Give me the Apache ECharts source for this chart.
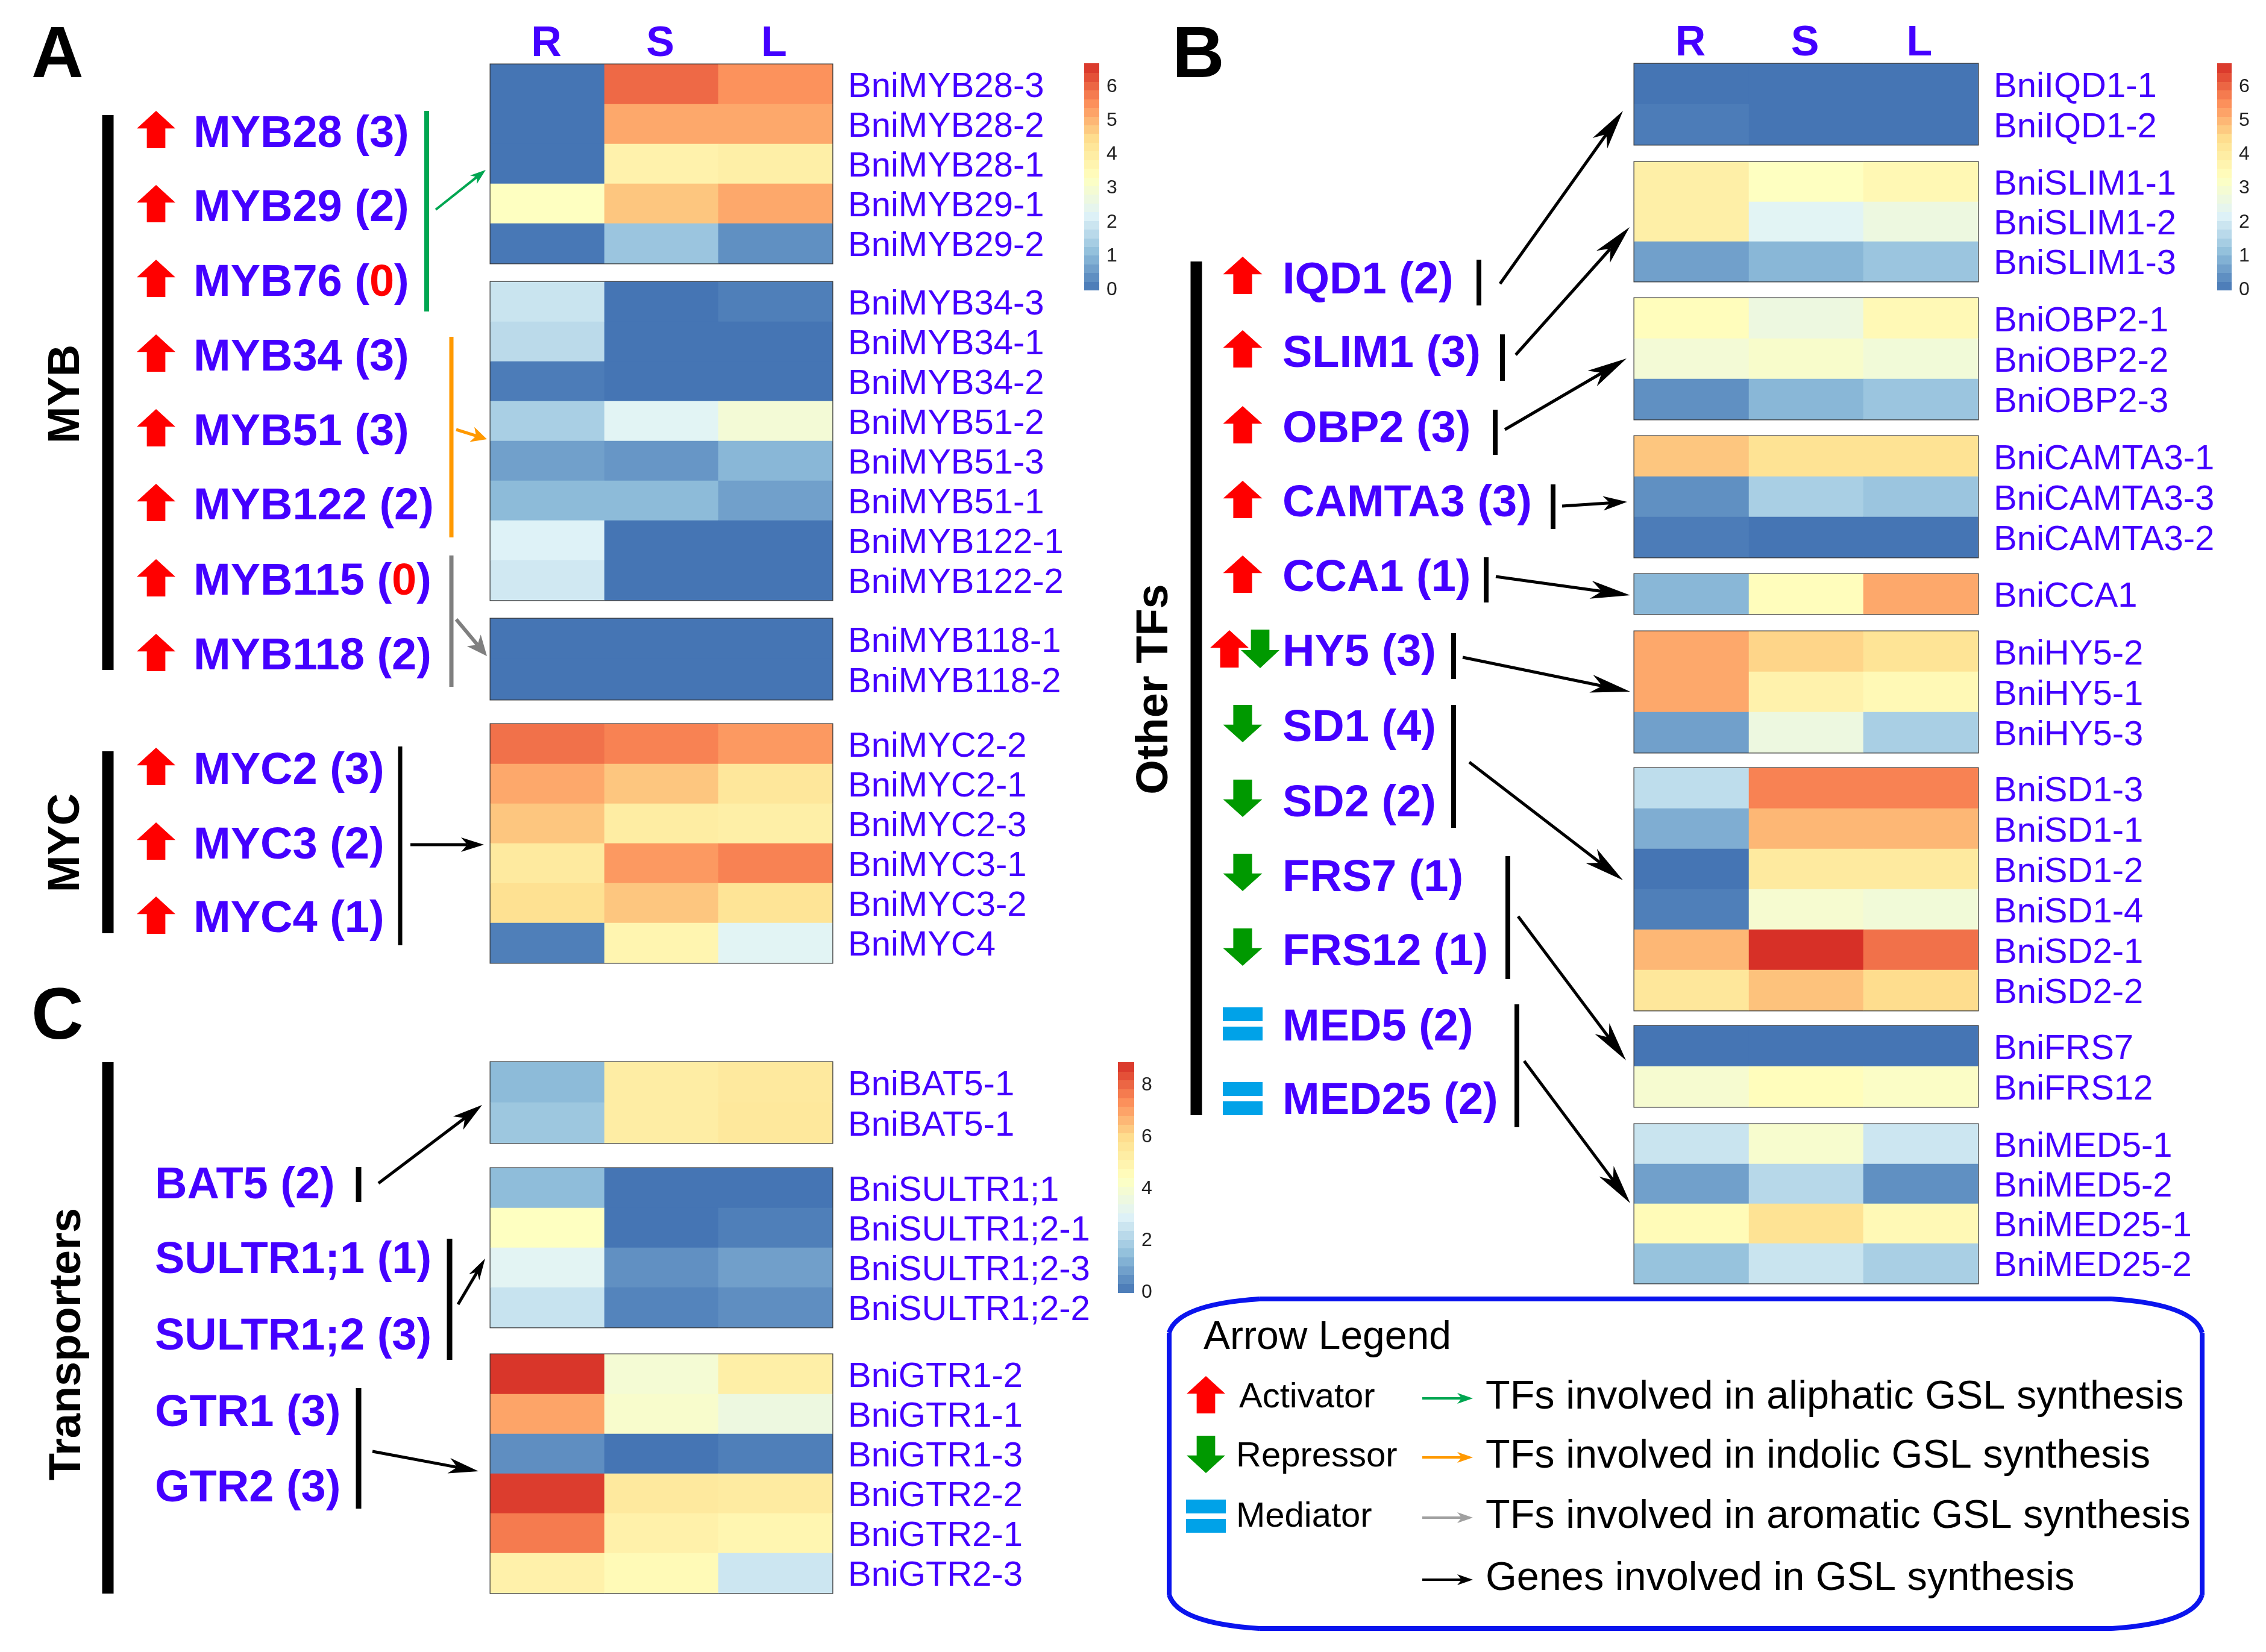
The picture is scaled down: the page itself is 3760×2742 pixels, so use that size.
<!DOCTYPE html>
<html><head><meta charset="utf-8">
<style>html,body{margin:0;padding:0;background:#fff}#c{width:3760px;height:2742px}</style>
<script src="https://cdn.jsdelivr.net/npm/echarts@6/dist/echarts.min.js"></script>
</head><body><div id="c"></div>
<script>
// ---------- DATA ----------
const tissues = ['R','S','L'];
const palette = ['#4575B4','#91BFDB','#E0F3F8','#FFFFBF','#FEE090','#FC8D59','#D73027'];
const maxAB = 6.68, maxC = 8.9;

const myb1Genes = ['BniMYB28-3','BniMYB28-2','BniMYB28-1','BniMYB29-1','BniMYB29-2'];
const myb1Vals = [[0,6.0,5.5],[0,5.2,5.2],[0,3.8,3.9],[3.3,4.8,5.2],[0.05,1.25,0.4]];
const myb2Genes = ['BniMYB34-3','BniMYB34-1','BniMYB34-2','BniMYB51-2','BniMYB51-3','BniMYB51-1','BniMYB122-1','BniMYB122-2'];
const myb2Vals = [[1.9,0,0.15],[1.7,0,0],[0.1,0,0],[1.45,2.3,2.9],[0.65,0.5,1.0],[1.05,1.05,0.65],[2.2,0,0],[2.0,0,0]];
const myb3Genes = ['BniMYB118-1','BniMYB118-2'];
const myb3Vals = [[0,0,0],[0,0,0]];
const mycGenes = ['BniMYC2-2','BniMYC2-1','BniMYC2-3','BniMYC3-1','BniMYC3-2','BniMYC4'];
const mycVals = [[5.9,5.7,5.4],[5.2,4.8,4.2],[4.8,4.0,3.9],[4.1,5.4,5.7],[4.4,4.8,4.3],[0.15,3.7,2.3]];

const iqdGenes = ['BniIQD1-1','BniIQD1-2'];
const iqdVals = [[0,0,0],[0.1,0,0]];
const slimGenes = ['BniSLIM1-1','BniSLIM1-2','BniSLIM1-3'];
const slimVals = [[3.9,3.3,3.6],[3.9,2.3,2.7],[0.65,1.0,1.25]];
const obpGenes = ['BniOBP2-1','BniOBP2-2','BniOBP2-3'];
const obpVals = [[3.4,2.7,3.55],[2.9,3.1,2.85],[0.4,1.0,1.25]];
const camtaGenes = ['BniCAMTA3-1','BniCAMTA3-3','BniCAMTA3-2'];
const camtaVals = [[4.8,4.35,4.35],[0.4,1.45,1.25],[0.1,0,0]];
const ccaGenes = ['BniCCA1'];
const ccaVals = [[1.0,3.4,5.2]];
const hyGenes = ['BniHY5-2','BniHY5-1','BniHY5-3'];
const hyVals = [[5.2,4.6,4.3],[5.2,3.8,3.55],[0.65,2.7,1.45]];
const sdGenes = ['BniSD1-3','BniSD1-1','BniSD1-2','BniSD1-4','BniSD2-1','BniSD2-2'];
const sdVals = [[1.75,5.7,5.7],[0.85,5.0,5.0],[0,4.1,4.1],[0.15,3.0,2.85],[5.0,6.68,5.9],[4.2,4.85,4.5]];
const frsGenes = ['BniFRS7','BniFRS12'];
const frsVals = [[0,0,0],[3.0,3.4,3.2]];
const medGenes = ['BniMED5-1','BniMED5-2','BniMED25-1','BniMED25-2'];
const medVals = [[1.9,3.05,1.95],[0.65,1.65,0.4],[3.5,4.35,3.55],[1.2,1.9,1.45]];

const batGenes = ['BniBAT5-1','BniBAT5-1'];
const batVals = [[1.4,5.3,5.5],[1.7,5.3,5.55]];
const sultrGenes = ['BniSULTR1;1','BniSULTR1;2-1','BniSULTR1;2-3','BniSULTR1;2-2'];
const sultrVals = [[1.45,0,0],[4.4,0,0.2],[3.1,0.55,0.85],[2.5,0.3,0.5]];
const gtrGenes = ['BniGTR1-2','BniGTR1-1','BniGTR1-3','BniGTR2-2','BniGTR2-1','BniGTR2-3'];
const gtrVals = [[8.8,3.9,5.2],[7.0,4.1,3.6],[0.5,0,0.2],[8.7,5.5,5.4],[7.7,5.1,4.9],[5.1,4.7,2.6]];

const tfsA = ['MYB28 (3)','MYB29 (2)','MYB76 (0)','MYB34 (3)','MYB51 (3)','MYB122 (2)','MYB115 (0)','MYB118 (2)'];
const tfsMyc = ['MYC2 (3)','MYC3 (2)','MYC4 (1)'];
const tfsB = ['IQD1 (2)','SLIM1 (3)','OBP2 (3)','CAMTA3 (3)','CCA1 (1)','HY5 (3)','SD1 (4)','SD2 (2)','FRS7 (1)','FRS12 (1)','MED5 (2)','MED25 (2)'];
const tfsBKinds = ['up','up','up','up','up','both','down','down','down','down','eq','eq'];
const tfsC = ['BAT5 (2)','SULTR1;1 (1)','SULTR1;2 (3)','GTR1 (3)','GTR2 (3)'];

// ---------- LAYOUT ----------
const AX=[814,567], BX=[2712,570];
const blocks = [
 [myb1Genes,myb1Vals,AX,107,330,0,true],[myb2Genes,myb2Vals,AX,468,528,0],[myb3Genes,myb3Vals,AX,1027,134,0],[mycGenes,mycVals,AX,1202,396,0],
 [iqdGenes,iqdVals,BX,106,134,1,true],[slimGenes,slimVals,BX,269,198,1],[obpGenes,obpVals,BX,495,201,1],[camtaGenes,camtaVals,BX,724,201,1],
 [ccaGenes,ccaVals,BX,953,66,1],[hyGenes,hyVals,BX,1048,201,1],[sdGenes,sdVals,BX,1275,402,1],[frsGenes,frsVals,BX,1703,134,1],[medGenes,medVals,BX,1866,264,1],
 [batGenes,batVals,AX,1763,134,2],[sultrGenes,sultrVals,AX,1939,264,2],[gtrGenes,gtrVals,AX,2248,396,2]
];
const FONT='"Liberation Sans", Arial, sans-serif';
const BLUE='#4400FF', RED='#FF0000', GREEN='#009900', CYAN='#00A2E8';
const grids=[],xAxes=[],yAxes=[],series=[],els=[];
const scales=[[],[],[]];

blocks.forEach((b,i)=>{
  const [genes,vals,X,top,h,panel,head]=b;
  grids.push({left:X[0],top,width:X[1],height:h,show:true,borderColor:'#3a3a3a',borderWidth:3,backgroundColor:'#fff'});
  xAxes.push({type:'category',gridIndex:i,data:tissues,position:'top',axisLine:{show:false},axisTick:{show:false},splitLine:{show:false},
    axisLabel:{show:!!head,color:BLUE,fontFamily:FONT,fontWeight:'bold',fontSize:70,margin:-2,padding:[0,4,0,0]}});
  yAxes.push({type:'category',gridIndex:i,data:genes,inverse:true,position:'right',axisLine:{show:false},axisTick:{show:false},splitLine:{show:false},axisLabel:{show:false}});
  const d=[];vals.forEach((r,y)=>r.forEach((v,x)=>d.push([x,y,v])));
  scales[panel].push(series.length);
  series.push({type:'heatmap',xAxisIndex:i,yAxisIndex:i,data:d,itemStyle:{borderWidth:0},emphasis:{disabled:true},silent:true,progressive:0,animation:false});
});
// gene names sit a few pixels below their rows, so they get a category axis of their own
blocks.forEach(b=>{
  const [genes,,X,top,h]=b,g=grids.length;
  grids.push({left:X[0],top:top+5,width:X[1],height:h,show:false});
  xAxes.push({type:'category',gridIndex:g,data:tissues,show:false});
  yAxes.push({type:'category',gridIndex:g,data:genes,inverse:true,position:'right',axisLine:{show:false},axisTick:{show:false},splitLine:{show:false},
    axisLabel:{color:BLUE,fontFamily:FONT,fontSize:58,margin:26,interval:0}});
});

// colour bars, drawn on their own value axes
const bars=[[1799,106,25,375,maxAB,1],[3679,106,24,375,maxAB,1],[1855,1763,27,382,maxC,2]];
const barSteps=[0,1,2,3,4,5,6,7,8,9,10,11,12,13,14,15,16,17,18,19,20,21,22,23,24,25];
bars.forEach(b=>{
  const g=grids.length,[left,top,width,height,mx,iv]=b;
  grids.push({left,top,width,height,show:false});
  xAxes.push({type:'value',gridIndex:g,min:0,max:1,show:false});
  yAxes.push({type:'value',gridIndex:g,min:0,max:mx,interval:iv===1?1:2,position:'right',axisLine:{show:false},axisTick:{show:false},splitLine:{show:false},
    axisLabel:{color:'#222',fontFamily:FONT,fontSize:32,margin:12,showMaxLabel:false,showMinLabel:true,formatter:v=>Number.isInteger(v)?String(v):''}});
  const n=barSteps.length;
  series.push({type:'custom',xAxisIndex:g,yAxisIndex:g,silent:true,data:barSteps,animation:false,
    renderItem(p,api){
      const k=api.value(0);
      const a=api.coord([0,mx*k/n]),c=api.coord([1,mx*(k+1)/n]);
      return {type:'rect',shape:{x:a[0],y:Math.floor(c[1]),width:c[0]-a[0],height:Math.ceil(a[1]-c[1])+1},
        style:{fill:echarts.color.lerp((k+.5)/n,palette)}};
    },encode:{y:0}});
});

// ---------- ANNOTATION HELPERS ----------
const rect=(x,y,w,h,fill)=>els.push({type:'rect',shape:{x,y,width:w,height:h},style:{fill},silent:true});
const vbar=(x,y1,y2,w,fill)=>rect(x-w/2,y1,w,y2-y1,fill||'#000');
function txt(text,x,y,size,opt={}){
  els.push({type:'text',x,y,silent:true,rotation:opt.rot||0,
   style:{text,font:`${opt.bold?'bold ':''}${size}px ${FONT}`,fill:opt.fill||'#000',textAlign:opt.align||'left',textVerticalAlign:'middle',rich:opt.rich}});
}
function tfLabel(s,x,y){
  const size=74; y+=4;
  if(s.includes('(0)')){
    const [n]=s.split('(0)');
    const base={font:`bold ${size}px ${FONT}`,fill:BLUE};
    txt(`{a|${n}(}{r|0}{a|)}`,x,y,size,{bold:true,fill:BLUE,rich:{a:base,r:{font:`bold ${size}px ${FONT}`,fill:RED}}});
  } else txt(s,x,y,size,{bold:true,fill:BLUE});
}
function up(cx,cy,w,h,f){els.push({type:'polygon',silent:true,shape:{points:[[cx,cy-h/2],[cx+w/2,cy-h/2+h*.47],[cx+w*.24,cy-h/2+h*.47],[cx+w*.24,cy+h/2],[cx-w*.24,cy+h/2],[cx-w*.24,cy-h/2+h*.47],[cx-w/2,cy-h/2+h*.47]]},style:{fill:f||RED}});}
function down(cx,cy,w,h,f){els.push({type:'polygon',silent:true,shape:{points:[[cx,cy+h/2],[cx+w/2,cy+h/2-h*.47],[cx+w*.24,cy+h/2-h*.47],[cx+w*.24,cy-h/2],[cx-w*.24,cy-h/2],[cx-w*.24,cy+h/2-h*.47],[cx-w/2,cy+h/2-h*.47]]},style:{fill:f||GREEN}});}
function eq(cx,cy,w){rect(cx-w/2,cy-27,w,23,CYAN);rect(cx-w/2,cy+5,w,23,CYAN);}
function arrow(x1,y1,x2,y2,col,lw,L,W){
  const dx=x2-x1,dy=y2-y1,d=Math.hypot(dx,dy),ux=dx/d,uy=dy/d,nx=-uy,ny=ux;
  const bx=x2-ux*L,by=y2-uy*L,mx=x2-ux*L*.72,my=y2-uy*L*.72;
  els.push({type:'line',silent:true,shape:{x1,y1,x2:mx,y2:my},style:{stroke:col,lineWidth:lw}});
  els.push({type:'polygon',silent:true,shape:{points:[[x2,y2],[bx+nx*W,by+ny*W],[mx,my],[bx-nx*W,by-ny*W]]},style:{fill:col}});
}
const FRAME='#0A14EE';
function curve(x1,y1,cx,cy,x2,y2){els.push({type:'bezierCurve',silent:true,shape:{x1,y1,cpx1:cx,cpy1:cy,x2,y2},style:{stroke:FRAME,lineWidth:8,fill:'none'}});}
function seg(x1,y1,x2,y2){els.push({type:'line',silent:true,shape:{x1,y1,x2,y2},style:{stroke:FRAME,lineWidth:8}});}

// panel letters
txt('A',52,95,120,{bold:true});txt('B',1945,95,120,{bold:true});txt('C',52,1691,120,{bold:true});
// group titles
const R90=Math.PI/2;
txt('MYB',111,654,74,{bold:true,rot:R90,align:'center'});
txt('MYC',111,1399,74,{bold:true,rot:R90,align:'center'});
txt('Transporters',113,2231,74,{bold:true,rot:R90,align:'center'});
txt('Other TFs',1917,1144,74,{bold:true,rot:R90,align:'center'});
vbar(179,191,1112,19);vbar(179,1247,1549,19);vbar(179,1763,2645,19);vbar(1985,434,1851,19);

// A
const aArrowY=[215,338,462,586,710,834,959,1083], aTextY=[220,343,467,591,715,838,963,1087];
tfsA.forEach((s,i)=>{up(259,aArrowY[i],64,62);tfLabel(s,321,aTextY[i]);});
const mArrowY=[1272,1396,1519], mTextY=[1277,1401,1523];
tfsMyc.forEach((s,i)=>{up(259,mArrowY[i],64,62);tfLabel(s,321,mTextY[i]);});
vbar(708,184,517,8,'#00A651');vbar(749,559,892,7,'#FF9900');vbar(749,922,1140,7,'#7F7F7F');vbar(664,1239,1569,7);
arrow(723,348,806,282,'#00A651',4,26,9);
arrow(757,713,808,729,'#FF9900',5,26,13);
arrow(757,1028,808,1089,'#7F7F7F',6,34,15);
arrow(681,1402,803,1402,'#000',5,38,12);

// B
const bArrowY=[457,579,705,829,953,1077,1201,1325,1448,1572,1699,1823], bTextY=[463,585,710,833,957,1081,1206,1331,1455,1578,1703,1825];
tfsB.forEach((s,i)=>{
  const k=tfsBKinds[i],y=bArrowY[i];
  if(k==='up')up(2062,y,65,62);
  if(k==='down')down(2062,y,65,62);
  if(k==='both'){up(2040,y,64,62);down(2091,y,64,64);}
  if(k==='eq')eq(2062,y,66);
  tfLabel(s,2128,bTextY[i]);
});
[[2454,431,507],[2493,555,632],[2481,680,755],[2577,804,878],[2466,925,1000],[2412,1051,1127],[2412,1170,1374],[2502,1421,1625],[2517,1667,1871]].forEach(a=>vbar(a[0],a[1],a[2],8));
[[2489,471,2693,184],[2515,589,2704,377],[2497,713,2699,595],[2482,957,2705,988],[2427,1091,2705,1148],[2438,1265,2693,1461],[2519,1521,2698,1760],[2529,1761,2705,1997]]
 .forEach(a=>arrow(a[0],a[1],a[2],a[3],'#000',5,66,15));
arrow(2592,840,2700,833,'#000',5,40,12);

// C
const cTextY=[1965,2089,2216,2343,2468];
tfsC.forEach((s,i)=>tfLabel(s,257,cTextY[i]));
vbar(595,1937,1995,9);vbar(746,2056,2257,9);vbar(595,2304,2504,9);
arrow(628,1964,800,1834,'#000',5,50,14);
arrow(760,2165,805,2089,'#000',5,36,10);
arrow(618,2409,794,2442,'#000',5,50,13);

// legend frame
const FL=1940,FR=3654,FT=2156,FB=2703,CX=150,CY=56;
seg(FL+CX,FT,FR-CX,FT);seg(FR,FT+CY,FR,FB-CY);seg(FL+CX,FB,FR-CX,FB);seg(FL,FT+CY,FL,FB-CY);
curve(FR-CX,FT,FR-14,FT+9,FR,FT+CY);curve(FR,FB-CY,FR-14,FB-9,FR-CX,FB);curve(FL+CX,FB,FL+14,FB-9,FL,FB-CY);curve(FL,FT+CY,FL+14,FT+9,FL+CX,FT);
txt('Arrow Legend',1997,2221,66);
up(2001,2315,64,62);txt('Activator',2056,2320,58);
down(2001,2414,64,62);txt('Repressor',2051,2418,58);
eq(2001,2516,66);txt('Mediator',2051,2518,58);
const legendRows=[['TFs involved in aliphatic GSL synthesis','#00A651',2321,2320],['TFs involved in indolic GSL synthesis','#FF9900',2419,2418],['TFs involved in aromatic GSL synthesis','#A0A0A0',2519,2518],['Genes involved in GSL synthesis','#000',2622,2621]];
legendRows.forEach(r=>{arrow(2360,r[2],2444,r[2],r[1],4,26,9);txt(r[0],2465,r[3],66.6);});

// ---------- CHART ----------
const chart=echarts.init(document.getElementById('c'),null,{renderer:'canvas'});
chart.setOption({
  backgroundColor:'#fff',animation:false,
  grid:grids,xAxis:xAxes,yAxis:yAxes,series,
  visualMap:[
    {show:false,type:'continuous',seriesIndex:scales[0],dimension:2,min:0,max:maxAB,inRange:{color:palette}},
    {show:false,type:'continuous',seriesIndex:scales[1],dimension:2,min:0,max:maxAB,inRange:{color:palette}},
    {show:false,type:'continuous',seriesIndex:scales[2],dimension:2,min:0,max:maxC,inRange:{color:palette}}
  ],
  graphic:{elements:els}
});
</script></body></html>
